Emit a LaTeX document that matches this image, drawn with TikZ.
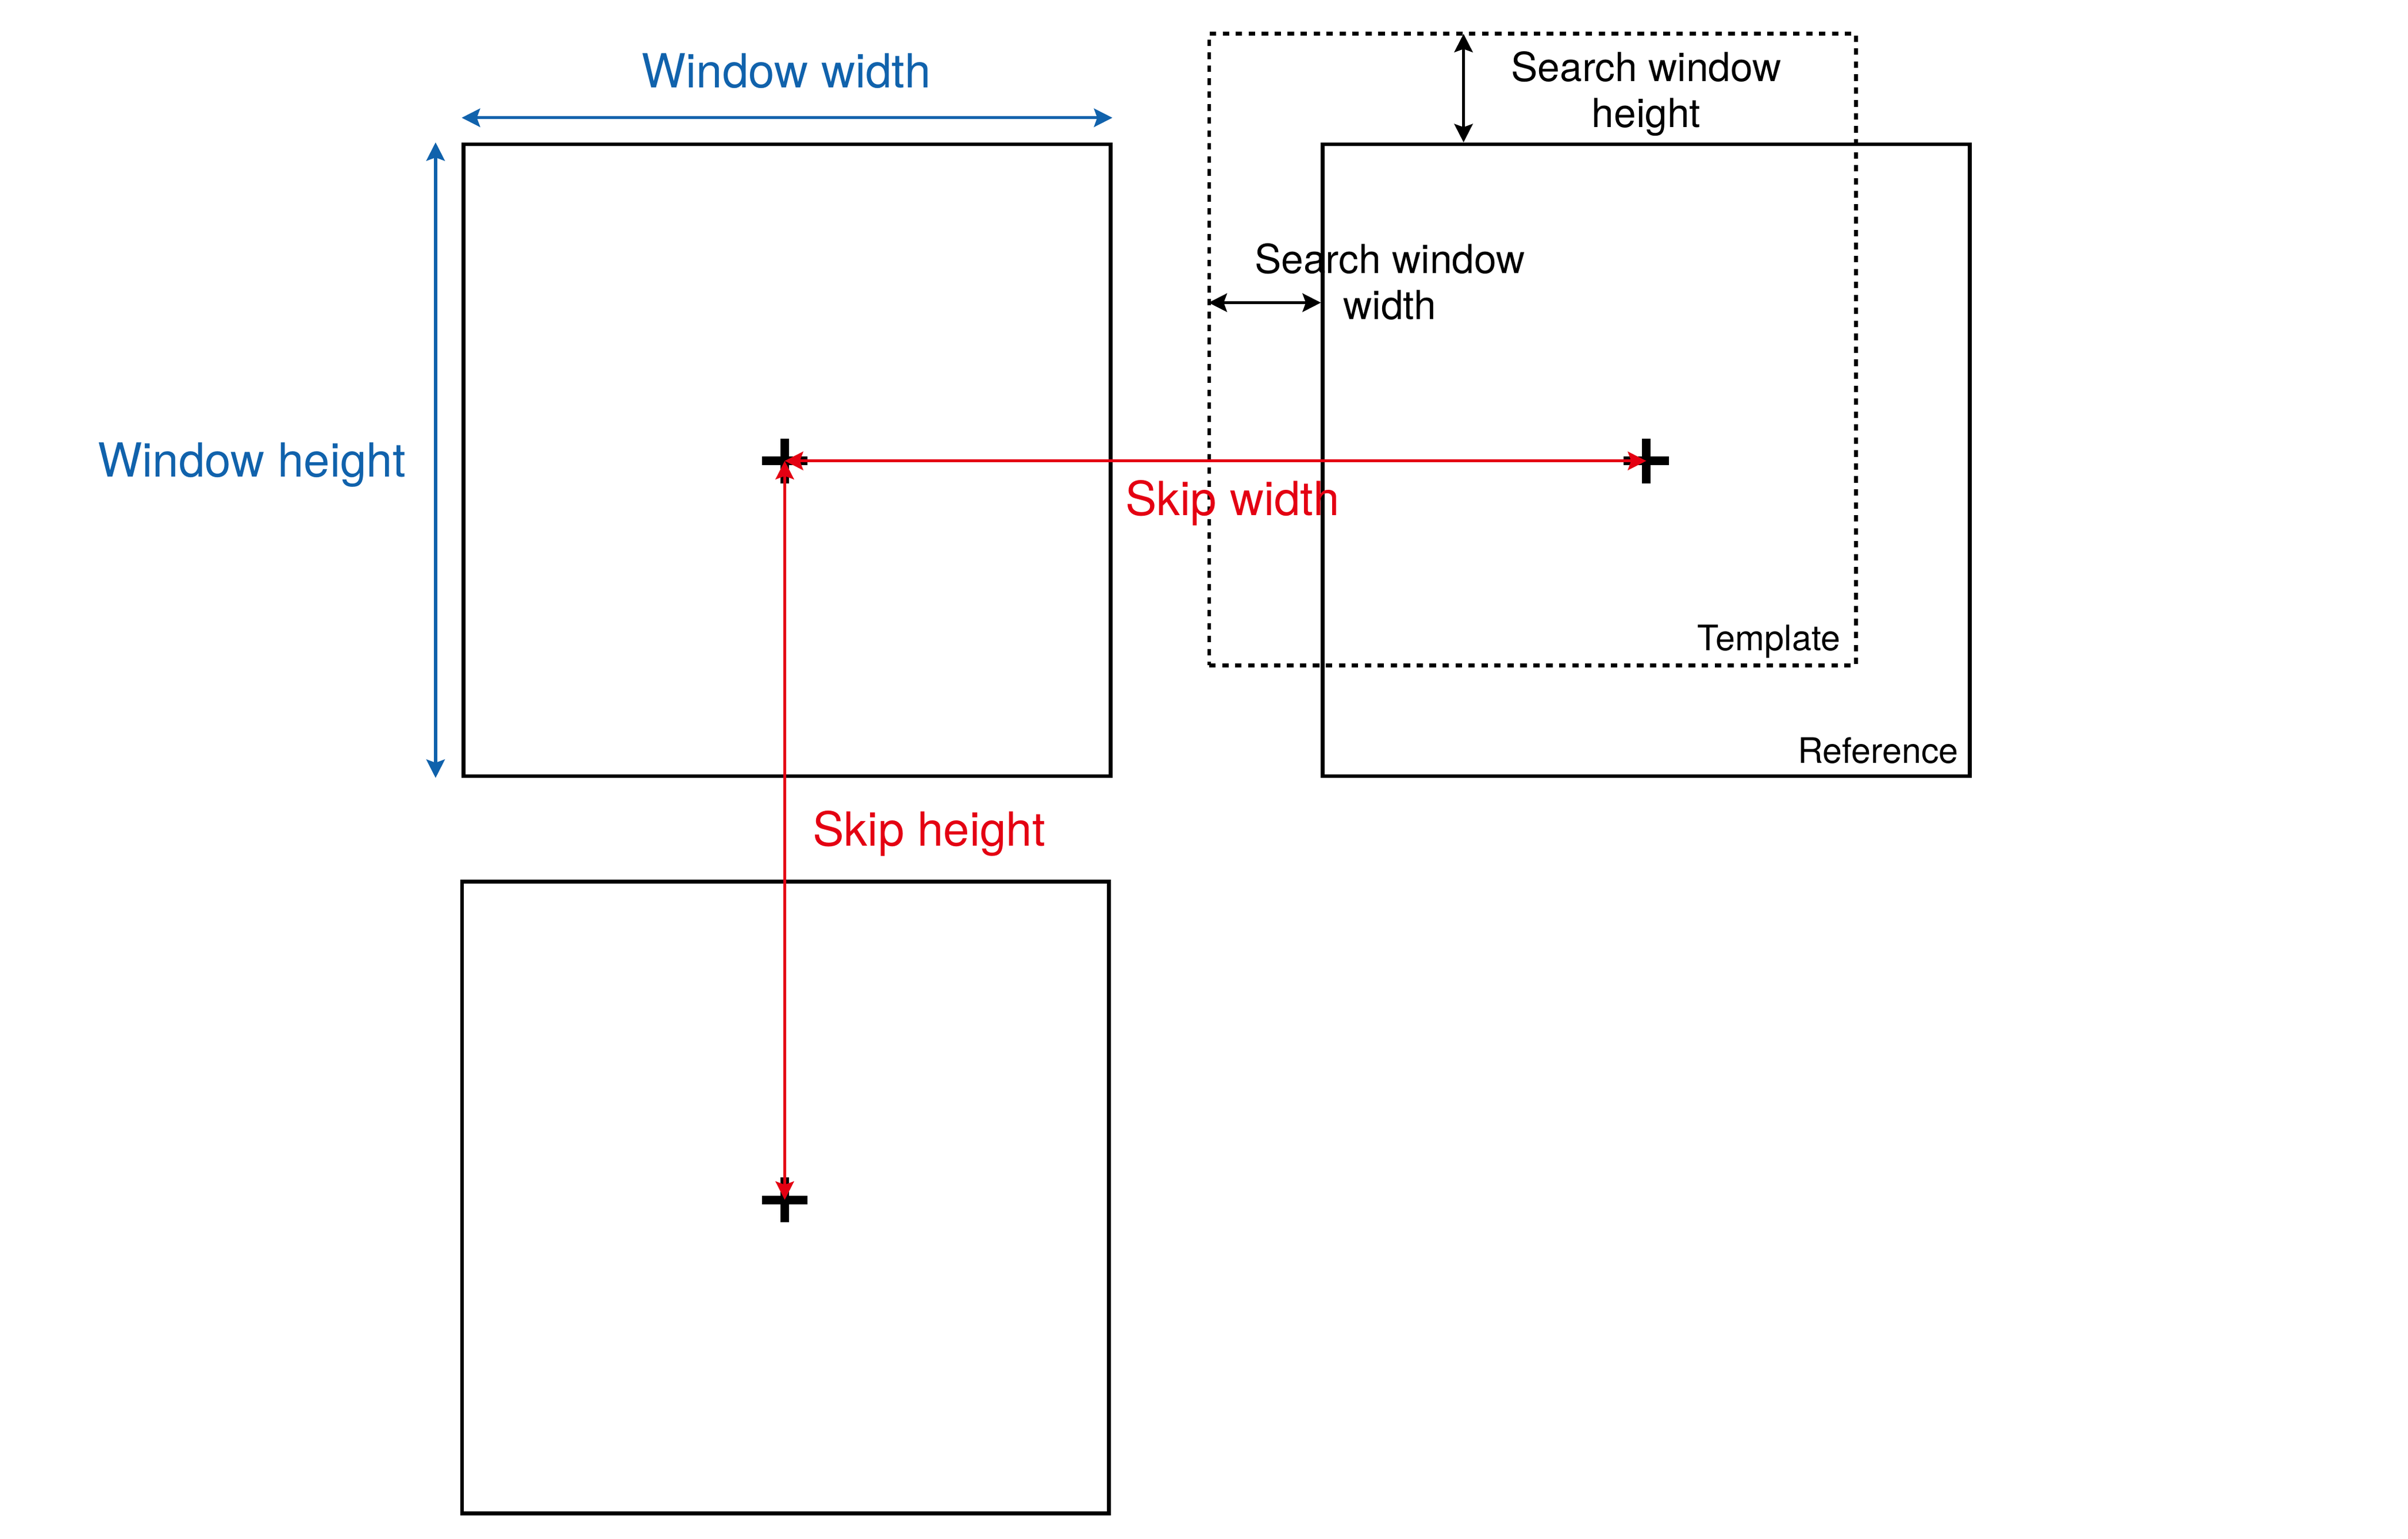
\documentclass[tikz,border=0pt]{standalone}
\usepackage{fontspec}
\setmainfont{TeX Gyre Heros}
\usepackage{tikz}
\usetikzlibrary{shapes, arrows.meta, positioning, backgrounds}
\definecolor{winblue}{RGB}{16,98,172}
\definecolor{skipred}{RGB}{228,0,18}
\tikzstyle{dimarrow} = [<->, >={Stealth[length=3.4pt, width=3.4pt, inset=0.6pt]}, line width=0.55pt]
\tikzstyle{win} = [draw, line width=0.7pt, minimum width=4.21cm, minimum height=4.11cm, inner sep=0pt]
\tikzstyle{search} = [win, dash pattern=on 1.2pt off 1.2pt, line width=0.7pt]
\tikzstyle{centre} = [draw, cross out, rotate=45, minimum size=0.207cm, inner sep=0pt, outer sep=0pt, line width=1.6pt]
\tikzstyle{bigtext} = [font=\fontsize{8.7}{10}\selectfont, inner sep=0pt]
\tikzstyle{smalltext} = [font=\fontsize{7.4}{8.5}\selectfont, align=center, inner sep=0pt]
\tikzstyle{tagtext} = [font=\fontsize{6.5}{7.5}\selectfont, inner sep=0pt]

\begin{document}
\begin{tikzpicture}[x=0.01cm, y=-0.01cm, background rectangle/.style={fill=white}, show background rectangle, inner frame sep=0pt]

    \useasboundingbox (0,0) rectangle (1568,1001.5);

    % windows
    \node[win] (winA) at (512.5,299.5) {};
    \node[win] (winB) at (511.5,779.5) {};
    \node[win] (ref) at (1072,299.5) {};
    \node[search] (tmpl) at (998,227.5) {};

    \node[tagtext, anchor=east] (lblT) at (1199,417.5) {Template};
    \node[tagtext, anchor=east] (lblR) at (1276,488.5) {Reference};

    % centres
    \node[centre] (cA) at (511,300) {};
    \node[centre] (cB) at (511,781) {};
    \node[centre] (cR) at (1072,300) {};

    % window size
    \draw[dimarrow, winblue] ([yshift=0.16cm]winA.north west) -- ([yshift=0.16cm]winA.north east);
    \draw[dimarrow, winblue] ([xshift=-0.17cm]winA.north west) -- ([xshift=-0.17cm]winA.south west);
    \node[bigtext, winblue] (lblWW) at (512,46) {Window width};
    \node[bigtext, winblue] (lblWH) at (164,302.5) {Window height};

    % search window
    \coordinate (swT) at (953,22);
    \coordinate (swL) at (787,197);
    \draw[dimarrow] (swT) -- (swT |- ref.north);
    \draw[dimarrow] (swL) -- (swL -| ref.west);
    \node[smalltext] (lblSH) at (1072,61) {Search window\\height};
    \node[smalltext] (lblSW) at (905,183.5) {Search window\\width};

    % skips
    \draw[dimarrow, skipred] (cA.center) -- (cR.center);
    \draw[dimarrow, skipred] (cA.center) -- (cB.center);
    \node[bigtext, skipred] (lblKW) at (802.5,327.5) {Skip width};
    \node[bigtext, skipred] (lblKH) at (605,542.5) {Skip height};

\end{tikzpicture}
\end{document}
